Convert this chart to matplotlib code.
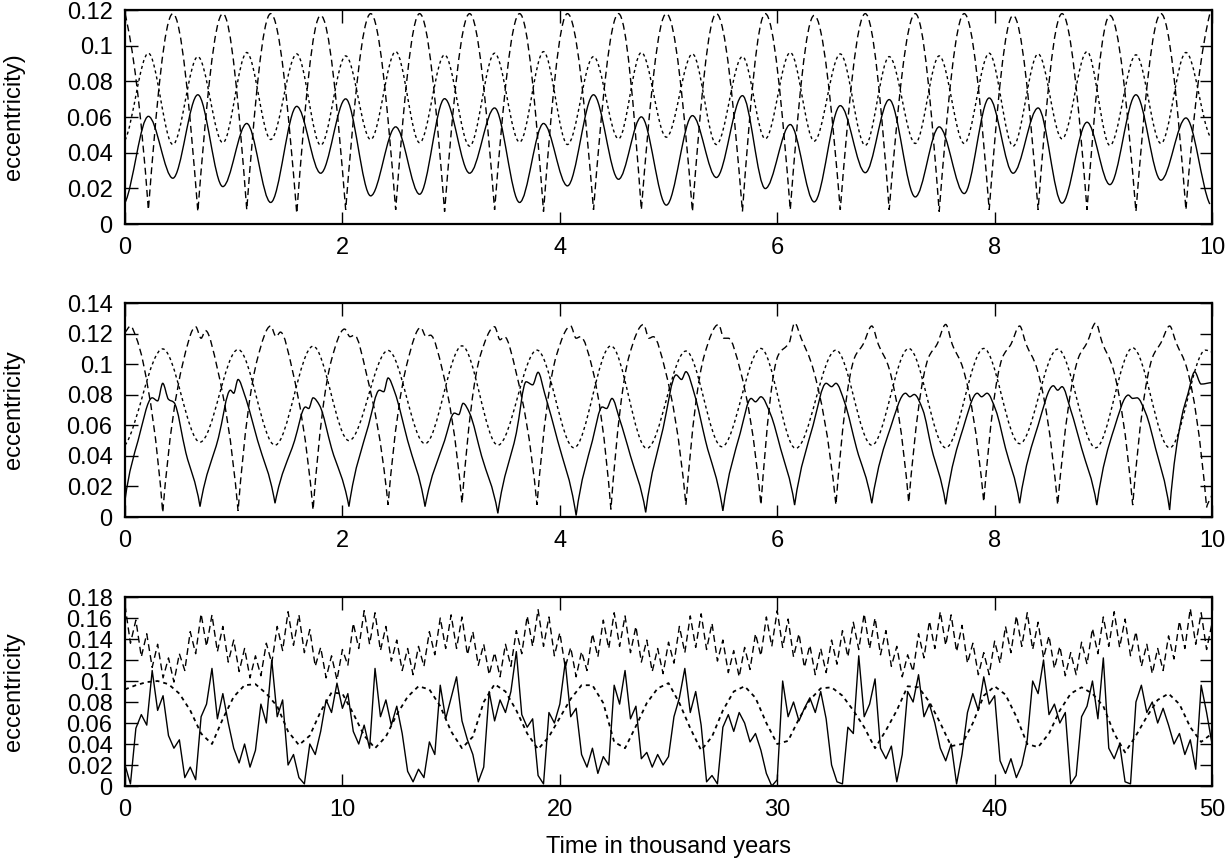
import numpy as np
import matplotlib
matplotlib.use('Agg')
import matplotlib.pyplot as plt
from matplotlib.path import Path
from matplotlib.patches import PathPatch

plt.rcParams['font.family'] = ['Liberation Sans', 'DejaVu Sans']

# ---- top panel: 0..10 kyr, turning points ----
t1 = [0.00, 0.215, 0.44, 0.67, 0.90, 1.12, 1.34, 1.58, 1.80, 2.03, 2.26, 2.49, 2.71, 2.94, 3.17,
      3.40, 3.63, 3.85, 4.07, 4.31, 4.54, 4.75, 4.98, 5.22, 5.44, 5.68, 5.89, 6.12, 6.34, 6.58,
      6.81, 7.03, 7.27, 7.49, 7.72, 7.95, 8.17, 8.40, 8.62, 8.85, 9.06, 9.30, 9.53, 9.76, 9.98]
solid1 = [0.012, 0.0604, 0.0257, 0.0725, 0.021, 0.0564, 0.0121, 0.066, 0.0285, 0.0702, 0.0158,
          0.0545, 0.0167, 0.0703, 0.0285, 0.0651, 0.0121, 0.0564, 0.0214, 0.0725, 0.0251, 0.0601,
          0.0106, 0.0608, 0.0261, 0.072, 0.0199, 0.0558, 0.0124, 0.0664, 0.0288, 0.0698, 0.0152,
          0.0545, 0.0171, 0.0707, 0.0285, 0.0651, 0.0117, 0.0571, 0.0221, 0.0725, 0.0246, 0.0595,
          0.0112]
dashed1 = [0.118, 0.008, 0.118, 0.007, 0.118, 0.008, 0.118, 0.006, 0.117, 0.008, 0.118, 0.008,
           0.118, 0.007, 0.118, 0.008, 0.118, 0.007, 0.118, 0.008, 0.118, 0.008, 0.118, 0.007,
           0.118, 0.007, 0.118, 0.008, 0.117, 0.008, 0.118, 0.008, 0.118, 0.007, 0.118, 0.008,
           0.117, 0.008, 0.118, 0.008, 0.117, 0.007, 0.118, 0.008, 0.118]
dotted1 = [0.047, 0.0958, 0.0446, 0.0939, 0.0456, 0.0962, 0.0474, 0.0954, 0.0442, 0.0943, 0.0474,
           0.0967, 0.0456, 0.0949, 0.0437, 0.0958, 0.0459, 0.0967, 0.0446, 0.0939, 0.0478, 0.0962,
           0.0487, 0.0954, 0.0446, 0.0939, 0.0478, 0.0962, 0.0465, 0.0954, 0.0441, 0.0939, 0.0452,
           0.0943, 0.0452, 0.0958, 0.0437, 0.0954, 0.0478, 0.0967, 0.0441, 0.0949, 0.0452, 0.0962,
           0.0493]

# ---- middle panel: 0..10 kyr ----
sol2_t = [0.00, 0.12, 0.25, 0.30, 0.347, 0.40, 0.45, 0.56, 0.69,
          0.86, 0.97, 1.00, 1.04, 1.10, 1.22, 1.38,
          1.56, 1.66, 1.69, 1.73, 1.79, 1.90, 2.06,
          2.24, 2.34, 2.38, 2.42, 2.48, 2.60, 2.76,
          2.94, 3.03, 3.07, 3.11, 3.17, 3.28, 3.43,
          3.60, 3.69, 3.75, 3.80, 3.86, 3.98, 4.15,
          4.30, 4.39, 4.43, 4.48, 4.55, 4.65, 4.79,
          4.95, 5.07, 5.12, 5.16, 5.24, 5.34, 5.50,
          5.66, 5.76, 5.80, 5.85, 5.94, 6.03, 6.16,
          6.33, 6.45, 6.50, 6.54, 6.62, 6.73, 6.87,
          7.04, 7.18, 7.22, 7.26, 7.34, 7.42, 7.55,
          7.71, 7.84, 7.88, 7.93, 8.01, 8.10, 8.23,
          8.40, 8.54, 8.58, 8.62, 8.70, 8.80, 8.94,
          9.10, 9.23, 9.27, 9.31, 9.39, 9.48, 9.61,
          9.72, 9.78, 9.84, 9.90, 10.0]
sol2_v = [0.011, 0.050, 0.078, 0.076, 0.0875, 0.077, 0.075, 0.042, 0.0068,
          0.052, 0.083, 0.081, 0.090, 0.080, 0.050, 0.009,
          0.050, 0.072, 0.071, 0.078, 0.073, 0.045, 0.0068,
          0.060, 0.083, 0.082, 0.091, 0.082, 0.050, 0.0068,
          0.050, 0.068, 0.067, 0.0744, 0.068, 0.040, 0.0024,
          0.055, 0.0885, 0.0865, 0.0947, 0.081, 0.050, 0.001,
          0.050, 0.072, 0.071, 0.0776, 0.064, 0.040, 0.003,
          0.058, 0.093, 0.090, 0.0951, 0.080, 0.050, 0.004,
          0.055, 0.0776, 0.0754, 0.0787, 0.067, 0.045, 0.0078,
          0.060, 0.0875, 0.0853, 0.0875, 0.075, 0.045, 0.009,
          0.058, 0.081, 0.0787, 0.0802, 0.070, 0.045, 0.0083,
          0.058, 0.081, 0.0787, 0.081, 0.070, 0.045, 0.009,
          0.060, 0.0859, 0.083, 0.0853, 0.070, 0.045, 0.0078,
          0.058, 0.0798, 0.0776, 0.078, 0.068, 0.045, 0.0046,
          0.065, 0.081, 0.095, 0.087, 0.088]
dash2_t = [0.00, 0.05, 0.10, 0.17, 0.347,
           0.53, 0.65, 0.70, 0.74, 0.85, 1.04,
           1.22, 1.34, 1.39, 1.43, 1.54, 1.73,
           1.90, 2.02, 2.07, 2.11, 2.22, 2.42,
           2.60, 2.72, 2.77, 2.81, 2.92, 3.10,
           3.27, 3.40, 3.45, 3.49, 3.60, 3.79,
           3.97, 4.10, 4.15, 4.19, 4.30, 4.47,
           4.64, 4.77, 4.82, 4.86, 4.97, 5.16,
           5.33, 5.46, 5.51, 5.55, 5.66, 5.85,
           6.01, 6.11, 6.16, 6.22, 6.33, 6.54,
           6.71, 6.79, 6.87, 6.93, 7.03, 7.21,
           7.39, 7.47, 7.55, 7.61, 7.71, 7.90,
           8.07, 8.15, 8.23, 8.29, 8.39, 8.58,
           8.77, 8.85, 8.93, 8.99, 9.09, 9.27,
           9.45, 9.53, 9.61, 9.67, 9.77, 9.95, 10.0]
dash2_v = [0.121, 0.125, 0.118, 0.100, 0.003,
           0.100, 0.1245, 0.117, 0.122, 0.097, 0.004,
           0.104, 0.125, 0.118, 0.121, 0.096, 0.0046,
           0.103, 0.123, 0.118, 0.119, 0.094, 0.008,
           0.102, 0.124, 0.118, 0.119, 0.096, 0.009,
           0.106, 0.1245, 0.116, 0.118, 0.094, 0.008,
           0.106, 0.125, 0.117, 0.118, 0.097, 0.005,
           0.106, 0.126, 0.117, 0.118, 0.096, 0.008,
           0.106, 0.126, 0.117, 0.117, 0.096, 0.008,
           0.106, 0.114, 0.127, 0.117, 0.097, 0.008,
           0.104, 0.113, 0.125, 0.113, 0.097, 0.0096,
           0.104, 0.113, 0.126, 0.113, 0.097, 0.010,
           0.104, 0.113, 0.125, 0.113, 0.097, 0.008,
           0.104, 0.114, 0.127, 0.114, 0.097, 0.0078,
           0.104, 0.114, 0.125, 0.114, 0.097, 0.0063, 0.015]
dot2_t = [0.0, 0.347, 0.69, 1.04, 1.38, 1.73, 2.06, 2.42, 2.76, 3.10, 3.43, 3.79, 4.13, 4.47, 4.80,
          5.16, 5.49, 5.85, 6.17, 6.54, 6.87, 7.21, 7.55, 7.90, 8.23, 8.58, 8.93, 9.27, 9.61, 9.94, 10.0]
dot2_v = [0.047, 0.110, 0.049, 0.1096, 0.047, 0.1118, 0.050, 0.109, 0.048, 0.112, 0.047, 0.1092,
          0.0453, 0.112, 0.0449, 0.1086, 0.046, 0.1103, 0.0449, 0.1092, 0.047, 0.1103, 0.0453,
          0.1103, 0.048, 0.1099, 0.0453, 0.1107, 0.0453, 0.1092, 0.108]

# ---- bottom panel: 0..50 kyr, sampled every 0.25 kyr ----
t3 = np.linspace(0, 50, 201)
solid3 = [0.020, 0.002, 0.055, 0.068, 0.058, 0.110, 0.072, 0.086, 0.048, 0.036,
          0.044, 0.008, 0.018, 0.006, 0.066, 0.078, 0.112, 0.064, 0.088, 0.060,
          0.036, 0.022, 0.040, 0.018, 0.034, 0.078, 0.060, 0.120, 0.066, 0.082,
          0.020, 0.030, 0.008, 0.002, 0.040, 0.030, 0.052, 0.082, 0.070, 0.098,
          0.074, 0.088, 0.052, 0.040, 0.058, 0.036, 0.112, 0.066, 0.082, 0.058,
          0.076, 0.050, 0.014, 0.004, 0.016, 0.008, 0.042, 0.030, 0.096, 0.064,
          0.084, 0.104, 0.062, 0.044, 0.030, 0.004, 0.018, 0.090, 0.062, 0.082,
          0.070, 0.090, 0.128, 0.068, 0.056, 0.064, 0.010, 0.002, 0.070, 0.060,
          0.078, 0.118, 0.066, 0.074, 0.030, 0.018, 0.036, 0.012, 0.028, 0.020,
          0.096, 0.078, 0.110, 0.064, 0.076, 0.026, 0.032, 0.018, 0.030, 0.020,
          0.028, 0.066, 0.084, 0.112, 0.070, 0.090, 0.058, 0.004, 0.010, 0.002,
          0.056, 0.068, 0.052, 0.070, 0.060, 0.042, 0.050, 0.034, 0.012, 0.000,
          0.006, 0.100, 0.066, 0.080, 0.062, 0.074, 0.084, 0.070, 0.090, 0.064,
          0.020, 0.004, 0.002, 0.056, 0.050, 0.124, 0.066, 0.078, 0.102, 0.036,
          0.026, 0.038, 0.004, 0.030, 0.090, 0.080, 0.106, 0.066, 0.078, 0.060,
          0.036, 0.024, 0.040, 0.002, 0.030, 0.070, 0.088, 0.072, 0.104, 0.078,
          0.086, 0.024, 0.012, 0.026, 0.008, 0.020, 0.044, 0.100, 0.088, 0.120,
          0.068, 0.078, 0.060, 0.070, 0.002, 0.010, 0.066, 0.076, 0.100, 0.064,
          0.122, 0.036, 0.026, 0.040, 0.004, 0.002, 0.080, 0.096, 0.070, 0.080,
          0.060, 0.074, 0.058, 0.040, 0.050, 0.030, 0.044, 0.016, 0.096, 0.070,
          0.040]
# dashed curve: upper turning points at 0, 0.5, 1.0 ... and lower ones at 0.25, 0.75 ...
dash3_hi = [0.172, 0.158, 0.145, 0.135, 0.122, 0.126, 0.147, 0.164, 0.163, 0.152,
            0.139, 0.131, 0.124, 0.136, 0.152, 0.166, 0.163, 0.149, 0.132, 0.124,
            0.130, 0.155, 0.167, 0.165, 0.152, 0.139, 0.131, 0.133, 0.147, 0.160,
            0.163, 0.161, 0.147, 0.135, 0.127, 0.135, 0.148, 0.162, 0.168, 0.161,
            0.146, 0.132, 0.128, 0.145, 0.158, 0.165, 0.162, 0.152, 0.139, 0.131,
            0.137, 0.152, 0.162, 0.164, 0.155, 0.139, 0.129, 0.132, 0.145, 0.161,
            0.167, 0.159, 0.145, 0.134, 0.131, 0.139, 0.148, 0.156, 0.164, 0.160,
            0.148, 0.133, 0.125, 0.145, 0.157, 0.166, 0.163, 0.153, 0.136, 0.127,
            0.138, 0.152, 0.162, 0.165, 0.156, 0.143, 0.133, 0.127, 0.137, 0.150,
            0.161, 0.166, 0.159, 0.147, 0.135, 0.131, 0.143, 0.157, 0.169, 0.165,
            0.155]
dash3_lo = [0.136, 0.123, 0.113, 0.103, 0.099, 0.110, 0.126, 0.133, 0.128, 0.118,
            0.109, 0.103, 0.105, 0.117, 0.129, 0.134, 0.127, 0.114, 0.103, 0.101,
            0.115, 0.131, 0.135, 0.129, 0.119, 0.110, 0.106, 0.114, 0.125, 0.131,
            0.131, 0.125, 0.115, 0.106, 0.104, 0.114, 0.126, 0.133, 0.133, 0.124,
            0.113, 0.104, 0.110, 0.123, 0.131, 0.133, 0.127, 0.118, 0.109, 0.107,
            0.117, 0.127, 0.132, 0.130, 0.119, 0.108, 0.104, 0.111, 0.124, 0.133,
            0.132, 0.123, 0.113, 0.106, 0.108, 0.116, 0.123, 0.130, 0.131, 0.125,
            0.114, 0.104, 0.109, 0.122, 0.131, 0.134, 0.128, 0.117, 0.106, 0.106,
            0.117, 0.127, 0.133, 0.130, 0.122, 0.112, 0.105, 0.106, 0.116, 0.126,
            0.133, 0.132, 0.124, 0.114, 0.107, 0.110, 0.121, 0.131, 0.135, 0.130]
t3d = np.linspace(0, 50, 101)
dotted3 = [0.092, 0.096, 0.099, 0.100, 0.097, 0.088, 0.072, 0.050, 0.040, 0.064,
           0.085, 0.096, 0.097, 0.088, 0.076, 0.052, 0.039, 0.048, 0.071, 0.089,
           0.088, 0.069, 0.048, 0.036, 0.047, 0.068, 0.085, 0.095, 0.092, 0.076,
           0.052, 0.036, 0.047, 0.080, 0.097, 0.090, 0.072, 0.050, 0.035, 0.047,
           0.065, 0.083, 0.096, 0.096, 0.079, 0.042, 0.036, 0.057, 0.079, 0.093,
           0.098, 0.079, 0.055, 0.034, 0.047, 0.072, 0.090, 0.095, 0.084, 0.060,
           0.040, 0.043, 0.064, 0.082, 0.093, 0.094, 0.086, 0.072, 0.056, 0.036,
           0.053, 0.072, 0.095, 0.094, 0.080, 0.060, 0.038, 0.040, 0.060, 0.086,
           0.095, 0.087, 0.066, 0.040, 0.037, 0.050, 0.072, 0.088, 0.094, 0.088,
           0.076, 0.050, 0.032, 0.048, 0.066, 0.082, 0.088, 0.078, 0.056, 0.042,
           0.050]

dash3 = np.empty(len(t3))
dash3[0::2] = dash3_hi
dash3[1::2] = dash3_lo

LONG = (0, (5, 3))
SHORT = (0, (2.2, 2.2))


def curve(ax, t, v, cusp_below=None, **kw):
    # smooth bezier through the read turning points, flat at extrema
    t = np.asarray(t, float)
    v = np.asarray(v, float)
    d = np.diff(v) / np.diff(t)
    m = np.zeros(len(t))
    for i in range(1, len(t) - 1):
        if d[i - 1] * d[i] > 0:
            m[i] = 2 / (1 / d[i - 1] + 1 / d[i])
    m[0] = 0.5 * d[0]
    m[-1] = 0.5 * d[-1]
    verts = [(t[0], v[0])]
    codes = [Path.MOVETO]
    for i in range(len(t) - 1):
        h = t[i + 1] - t[i]
        m0, m1 = m[i], m[i + 1]
        if cusp_below is not None:
            if v[i] < cusp_below:
                m0 = 1.6 * d[i]
            if v[i + 1] < cusp_below:
                m1 = 1.6 * d[i]
        verts += [(t[i] + h / 3, v[i] + m0 * h / 3),
                  (t[i + 1] - h / 3, v[i + 1] - m1 * h / 3),
                  (t[i + 1], v[i + 1])]
        codes += [Path.CURVE4] * 3
    ax.add_patch(PathPatch(Path(verts, codes), fill=False, edgecolor='black', **kw))


def style(ax, xticks, yticks, ylabel):
    ax.set_xlim(xticks[0], xticks[-1])
    ax.set_ylim(yticks[0], yticks[-1])
    ax.set_xticks(xticks)
    ax.set_xticklabels(['%g' % x for x in xticks])
    ax.set_yticks(yticks)
    ax.set_yticklabels(['%g' % y for y in yticks])
    ax.tick_params(direction='in', length=9, width=1.0, top=True, right=True,
                   labelsize=17, pad=9)
    for s in ax.spines.values():
        s.set_linewidth(1.6)
    ax.set_ylabel(ylabel, fontsize=17)
    ax.yaxis.set_label_coords(-0.102, 0.5)
    ax.yaxis.label.set_va('center')


fig = plt.figure(figsize=(12.28, 8.61), dpi=100)
ax1 = fig.add_axes([0.1018, 0.7398, 0.8852, 0.2485])
ax2 = fig.add_axes([0.1018, 0.3995, 0.8852, 0.2485])
ax3 = fig.add_axes([0.1018, 0.0871, 0.8852, 0.2195])

curve(ax1, t1, solid1, lw=1.0)
curve(ax1, t1, dashed1, cusp_below=0.03, lw=1.0, linestyle=LONG)
curve(ax1, t1, dotted1, lw=1.0, linestyle=SHORT)
style(ax1, [0, 2, 4, 6, 8, 10], [0, 0.02, 0.04, 0.06, 0.08, 0.1, 0.12], 'eccentricity)')

curve(ax2, sol2_t, sol2_v, cusp_below=0.012, lw=1.0)
curve(ax2, dash2_t, dash2_v, cusp_below=0.03, lw=1.0, linestyle=LONG)
curve(ax2, dot2_t, dot2_v, lw=1.0, linestyle=SHORT)
style(ax2, [0, 2, 4, 6, 8, 10], [0, 0.02, 0.04, 0.06, 0.08, 0.1, 0.12, 0.14], 'eccentricity')

ax3.plot(t3, solid3, color='black', lw=1.0)
ax3.plot(t3, dash3, color='black', lw=1.0, linestyle=LONG)
ax3.plot(t3d, dotted3, color='black', lw=1.3, linestyle=SHORT)
style(ax3, [0, 10, 20, 30, 40, 50],
      [0, 0.02, 0.04, 0.06, 0.08, 0.1, 0.12, 0.14, 0.16, 0.18], 'eccentricity')
ax3.set_xlabel('Time in thousand years', fontsize=17)
ax3.xaxis.set_label_coords(0.5, -0.323)
ax3.xaxis.label.set_va('center')

fig.savefig('out.png', dpi=100)
